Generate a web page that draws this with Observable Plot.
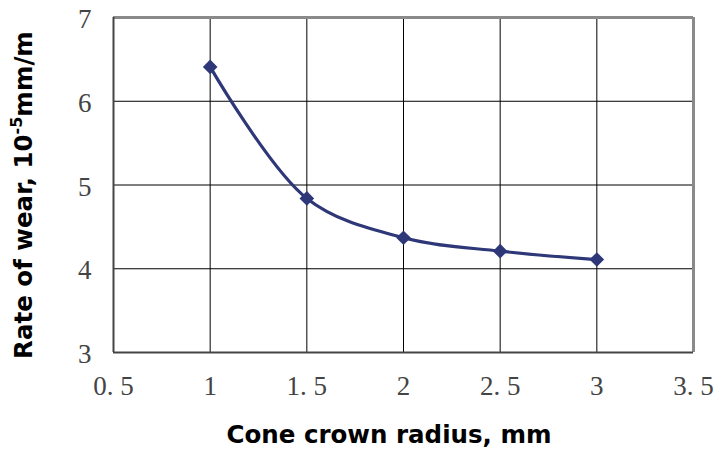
<!DOCTYPE html>
<html>
<head>
<meta charset="utf-8">
<script src="https://cdn.jsdelivr.net/npm/d3@7"></script>
<script src="https://cdn.jsdelivr.net/npm/@observablehq/plot@0.6"></script>
<style>
  html, body { margin: 0; padding: 0; background: #fff; }
</style>
</head>
<body>
<div id="chart"></div>
<script>
const radius = [1, 1.5, 2, 2.5, 3];
const wearRate = [6.41, 4.84, 4.37, 4.21, 4.11];
const xTicks = [0.5, 1, 1.5, 2, 2.5, 3, 3.5];
const yTicks = [3, 4, 5, 6, 7];
const xTitle = "Cone crown radius, mm";
const yTitleMain = "Rate of wear, 10";
const yTitleSup = "-5";
const yTitleEnd = "mm/m";

const data = radius.map((r, i) => ({r, w: wearRate[i]}));
const fmt = d => String(d).replace(".", ". ");
const lineColor = "#2E3878";

const plot = Plot.plot({
  width: 716,
  height: 452,
  marginLeft: 113,
  marginRight: 23,
  marginTop: 17,
  marginBottom: 100,
  style: {background: "#fff", overflow: "visible"},
  x: {domain: [0.5, 3.5]},
  y: {domain: [3, 7]},
  marks: [
    Plot.gridX(xTicks.slice(1, -1), {stroke: "#000", strokeOpacity: 1, strokeWidth: 1}),
    Plot.gridY(yTicks.slice(1, -1), {stroke: "#000", strokeOpacity: 1, strokeWidth: 1}),
    Plot.ruleX([3.5], {stroke: "#8a8a8a", strokeWidth: 3}),
    Plot.ruleY([7], {stroke: "#8a8a8a", strokeWidth: 3}),
    Plot.ruleX([0.5], {stroke: "#444", strokeWidth: 2}),
    Plot.ruleY([3], {stroke: "#444", strokeWidth: 2}),
    Plot.axisX(xTicks, {tickSize: 0, tickPadding: 23, tickFormat: fmt, label: null,
      fontSize: 27, fontFamily: "Liberation Serif", fill: "#444"}),
    Plot.axisY(yTicks, {tickSize: 0, tickPadding: 22, tickFormat: fmt, label: null, dy: 2,
      fontSize: 27, fontFamily: "Liberation Serif", fill: "#444"}),
    Plot.line(data, {x: "r", y: "w", curve: "catmull-rom", stroke: lineColor, strokeWidth: 3.2}),
    Plot.dot(data, {x: "r", y: "w", symbol: "diamond2", r: 6.6, fill: lineColor, stroke: "none"})
  ]
});

const svg = d3.select(plot);
// x-axis title
svg.append("text")
  .attr("x", 389)
  .attr("y", 443)
  .attr("text-anchor", "middle")
  .attr("font-family", "DejaVu Sans")
  .attr("font-size", 24.5)
  .attr("font-weight", "bold")
  .attr("fill", "#000")
  .text(xTitle);

// y-axis title with superscript
const t = svg.append("text")
  .attr("transform", "translate(32,195) rotate(-90)")
  .attr("text-anchor", "middle")
  .attr("font-family", "DejaVu Sans")
  .attr("font-size", 24.5)
  .attr("font-weight", "bold")
  .attr("fill", "#000");
t.append("tspan").text(yTitleMain);
t.append("tspan").attr("font-size", 16).attr("dy", -10).text(yTitleSup);
t.append("tspan").attr("dy", 10).text(yTitleEnd);

document.getElementById("chart").appendChild(plot);
</script>
</body>
</html>
